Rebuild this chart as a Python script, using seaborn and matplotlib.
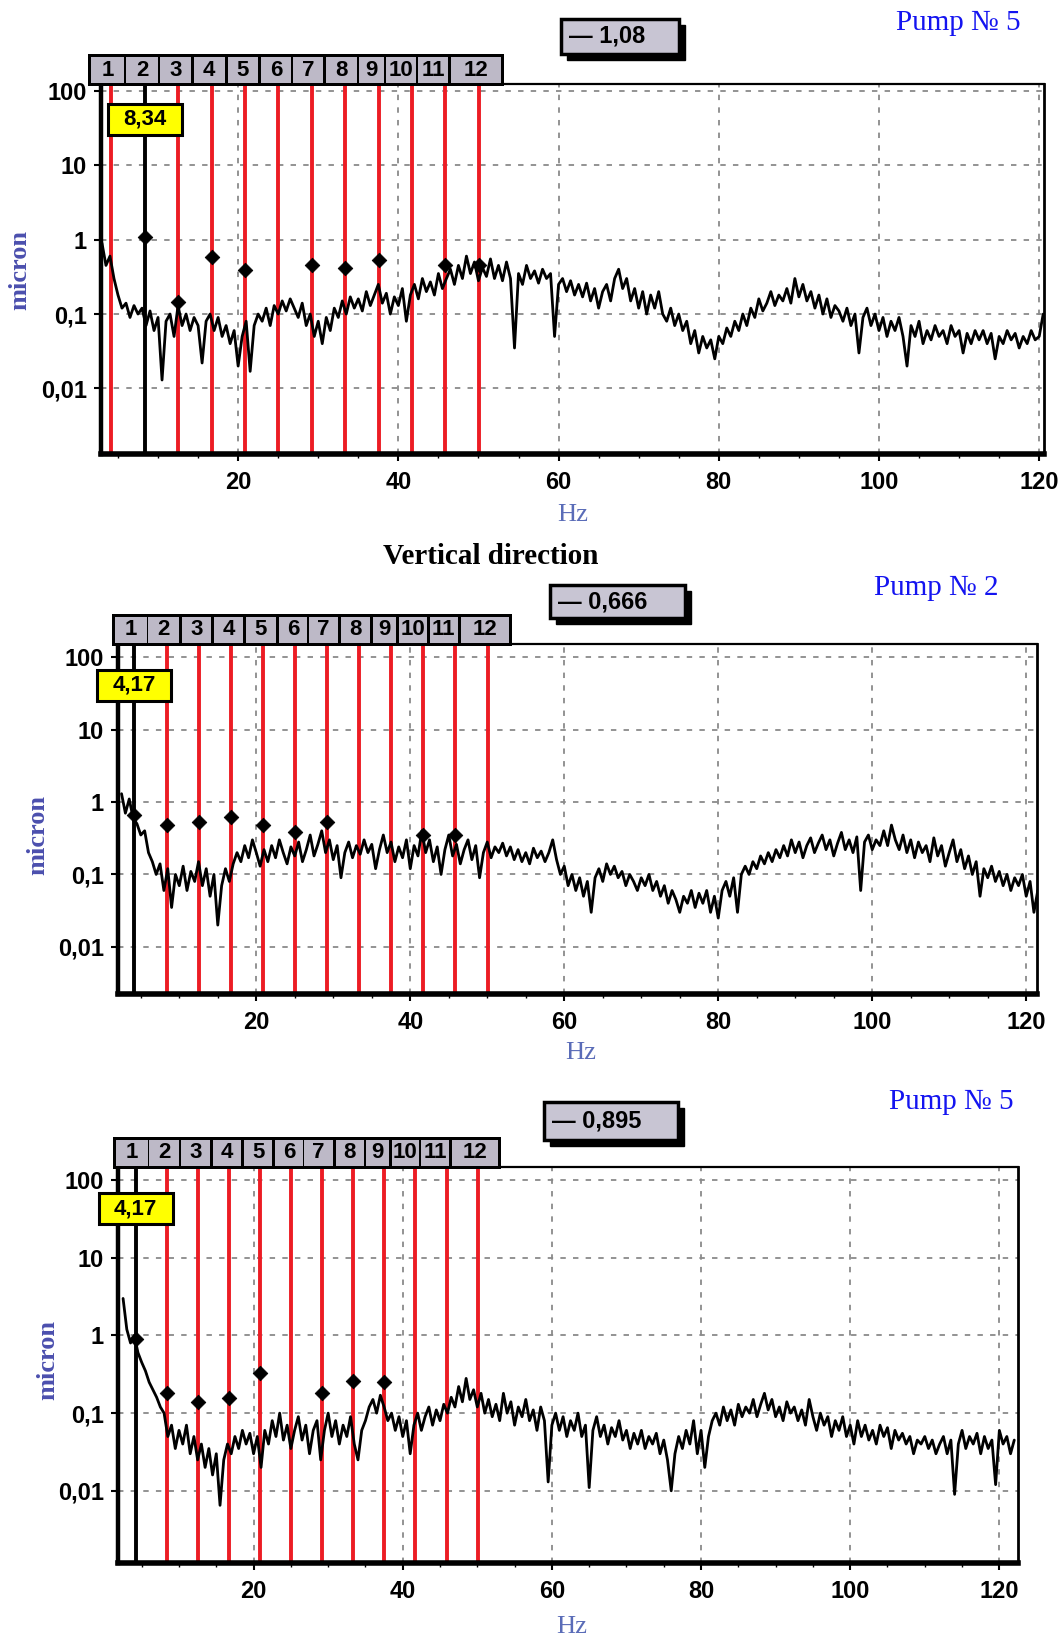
import numpy as np
import pandas as pd
import matplotlib
matplotlib.use("Agg")
import matplotlib.pyplot as plt
import seaborn as sns
from matplotlib.patches import Rectangle
from matplotlib.transforms import blended_transform_factory
from matplotlib.ticker import NullLocator

# ---------------- data ----------------
harmonics_hz = [4.17, 8.34, 12.51, 16.68, 20.85, 25.02, 29.19, 33.36, 37.53, 41.70, 45.87, 50.04]
harmonic_labels = ["1", "2", "3", "4", "5", "6", "7", "8", "9", "10", "11", "12"]
x_ticks = [20, 40, 60, 80, 100, 120]
y_ticks = [0.01, 0.1, 1, 10, 100]
y_tick_labels = ["0,01", "0,1", "1", "10", "100"]

pump_labels = ["Pump № 5", "Pump № 2", "Pump № 5"]
cursor_harmonic = [2, 1, 1]
cursor_freq_labels = ["8,34", "4,17", "4,17"]
cursor_value_labels = ["1,08", "0,666", "0,895"]

# Panel 1 spectrum (0.5 Hz step starting 3.0 Hz)
p1_start = 3.0
p1_amp = [
    0.9, 0.45, 0.6, 0.3, 0.18, 0.12, 0.14, 0.09, 0.13, 0.1, 0.12, 0.07, 0.11, 0.06, 0.09, 0.013, 0.08, 0.1, 0.05, 0.13,
    0.07, 0.1, 0.06, 0.09, 0.07, 0.022, 0.08, 0.1, 0.06, 0.09, 0.05, 0.07, 0.04, 0.06, 0.02, 0.05, 0.08, 0.017, 0.07, 0.1,
    0.08, 0.12, 0.07, 0.13, 0.1, 0.15, 0.11, 0.16, 0.12, 0.09, 0.14, 0.07, 0.1, 0.05, 0.08, 0.04, 0.09, 0.06, 0.12, 0.09,
    0.15, 0.1, 0.17, 0.12, 0.16, 0.11, 0.2, 0.13, 0.18, 0.25, 0.14, 0.19, 0.1, 0.17, 0.13, 0.22, 0.08, 0.18, 0.25, 0.16,
    0.3, 0.2, 0.27, 0.18, 0.35, 0.22, 0.3, 0.4, 0.25, 0.45, 0.3, 0.6, 0.35, 0.5, 0.28, 0.42, 0.32, 0.55, 0.3, 0.45,
    0.28, 0.5, 0.3, 0.035, 0.35, 0.25, 0.45, 0.3, 0.38, 0.26, 0.4, 0.3, 0.35, 0.05, 0.25, 0.3, 0.2, 0.28, 0.18, 0.25,
    0.17, 0.26, 0.15, 0.22, 0.12, 0.2, 0.25, 0.15, 0.3, 0.4, 0.22, 0.3, 0.15, 0.22, 0.12, 0.2, 0.1, 0.18, 0.12, 0.2,
    0.1, 0.08, 0.12, 0.07, 0.1, 0.06, 0.08, 0.04, 0.06, 0.03, 0.05, 0.035, 0.045, 0.025, 0.05, 0.04, 0.065, 0.05, 0.08, 0.06,
    0.1, 0.07, 0.12, 0.09, 0.16, 0.11, 0.14, 0.2, 0.13, 0.18, 0.15, 0.22, 0.14, 0.3, 0.17, 0.25, 0.15, 0.2, 0.12, 0.18,
    0.1, 0.16, 0.09, 0.13, 0.11, 0.08, 0.12, 0.07, 0.1, 0.03, 0.09, 0.12, 0.07, 0.1, 0.06, 0.09, 0.05, 0.08, 0.06, 0.09,
    0.05, 0.02, 0.07, 0.05, 0.08, 0.04, 0.06, 0.045, 0.07, 0.05, 0.06, 0.04, 0.07, 0.05, 0.06, 0.03, 0.055, 0.04, 0.06, 0.045,
    0.06, 0.04, 0.055, 0.025, 0.05, 0.04, 0.06, 0.045, 0.055, 0.035, 0.05, 0.04, 0.06, 0.045, 0.05, 0.1,
]

# Panel 2 spectrum (0.5 Hz step starting 2.5 Hz)
p2_start = 2.5
p2_amp = [
    1.3, 0.7, 1.1, 0.6, 0.5, 0.35, 0.4, 0.2, 0.15, 0.1, 0.14, 0.06, 0.12, 0.035, 0.1, 0.07, 0.13, 0.06, 0.11,
    0.08, 0.15, 0.07, 0.12, 0.05, 0.1, 0.02, 0.07, 0.12, 0.08, 0.14, 0.2, 0.15, 0.25, 0.17, 0.3, 0.2, 0.13, 0.22, 0.15,
    0.25, 0.17, 0.3, 0.2, 0.14, 0.24, 0.18, 0.28, 0.15, 0.22, 0.35, 0.18, 0.26, 0.4, 0.2, 0.3, 0.16, 0.25, 0.09, 0.2,
    0.28, 0.17, 0.25, 0.19, 0.3, 0.2, 0.26, 0.12, 0.22, 0.35, 0.2, 0.28, 0.15, 0.24, 0.17, 0.3, 0.12, 0.25, 0.18, 0.4,
    0.2, 0.3, 0.15, 0.24, 0.1, 0.22, 0.35, 0.18, 0.26, 0.14, 0.22, 0.3, 0.16, 0.25, 0.09, 0.2, 0.28, 0.17, 0.24, 0.2,
    0.27, 0.18, 0.24, 0.16, 0.22, 0.15, 0.2, 0.14, 0.23, 0.17, 0.21, 0.15, 0.2, 0.3, 0.16, 0.1, 0.13, 0.07, 0.1, 0.06,
    0.09, 0.05, 0.08, 0.03, 0.09, 0.12, 0.08, 0.14, 0.1, 0.13, 0.09, 0.11, 0.07, 0.1, 0.08, 0.06, 0.09, 0.07, 0.1, 0.06,
    0.08, 0.05, 0.07, 0.04, 0.06, 0.045, 0.03, 0.05, 0.04, 0.06, 0.035, 0.055, 0.04, 0.06, 0.03, 0.05, 0.025, 0.06, 0.08, 0.05,
    0.09, 0.03, 0.1, 0.13, 0.1, 0.15, 0.12, 0.18, 0.14, 0.2, 0.15, 0.22, 0.17, 0.25, 0.18, 0.3, 0.2, 0.28, 0.17, 0.25,
    0.32, 0.2, 0.27, 0.35, 0.22, 0.3, 0.18, 0.27, 0.38, 0.22, 0.3, 0.2, 0.33, 0.06, 0.28, 0.35, 0.22, 0.3, 0.25, 0.4,
    0.25, 0.48, 0.3, 0.22, 0.35, 0.2, 0.3, 0.17, 0.28, 0.2, 0.25, 0.15, 0.32, 0.18, 0.25, 0.13, 0.2, 0.3, 0.15, 0.22,
    0.12, 0.18, 0.1, 0.15, 0.05, 0.12, 0.09, 0.13, 0.08, 0.11, 0.07, 0.1, 0.06, 0.09, 0.07, 0.1, 0.05, 0.08, 0.03, 0.06,
]

# Panel 3 spectrum (0.5 Hz step starting 2.5 Hz)
p3_start = 2.5
p3_amp = [
    3.0, 1.2, 0.8, 1.0, 0.6, 0.45, 0.35, 0.25, 0.2, 0.16, 0.12, 0.1, 0.05, 0.07, 0.035, 0.06, 0.04, 0.07, 0.03,
    0.05, 0.025, 0.04, 0.02, 0.035, 0.016, 0.03, 0.0065, 0.025, 0.04, 0.03, 0.05, 0.035, 0.06, 0.04, 0.055, 0.03, 0.05, 0.02, 0.06,
    0.04, 0.08, 0.05, 0.1, 0.045, 0.07, 0.035, 0.06, 0.09, 0.045, 0.07, 0.03, 0.06, 0.08, 0.025, 0.06, 0.1, 0.05, 0.08, 0.04,
    0.07, 0.05, 0.09, 0.04, 0.025, 0.06, 0.08, 0.12, 0.15, 0.1, 0.17, 0.12, 0.08, 0.1, 0.06, 0.09, 0.05, 0.08, 0.03, 0.07,
    0.1, 0.06, 0.09, 0.12, 0.07, 0.11, 0.08, 0.13, 0.1, 0.16, 0.12, 0.22, 0.14, 0.28, 0.15, 0.2, 0.12, 0.18, 0.1, 0.15,
    0.09, 0.13, 0.08, 0.18, 0.1, 0.14, 0.07, 0.12, 0.09, 0.15, 0.08, 0.11, 0.06, 0.12, 0.08, 0.013, 0.07, 0.1, 0.06, 0.09,
    0.05, 0.08, 0.06, 0.1, 0.05, 0.07, 0.011, 0.06, 0.09, 0.05, 0.07, 0.04, 0.065, 0.05, 0.08, 0.045, 0.06, 0.035, 0.055, 0.04,
    0.06, 0.035, 0.05, 0.04, 0.055, 0.03, 0.045, 0.025, 0.01, 0.03, 0.05, 0.035, 0.06, 0.04, 0.08, 0.03, 0.06, 0.02, 0.05, 0.08,
    0.1, 0.07, 0.12, 0.08, 0.11, 0.07, 0.13, 0.09, 0.12, 0.1, 0.15, 0.09, 0.13, 0.18, 0.11, 0.15, 0.09, 0.12, 0.08, 0.14,
    0.1, 0.12, 0.08, 0.11, 0.07, 0.15, 0.09, 0.06, 0.1, 0.07, 0.09, 0.05, 0.08, 0.06, 0.09, 0.05, 0.07, 0.04, 0.08, 0.05,
    0.07, 0.045, 0.06, 0.04, 0.07, 0.05, 0.065, 0.035, 0.06, 0.045, 0.055, 0.04, 0.05, 0.03, 0.045, 0.04, 0.05, 0.035, 0.045, 0.03,
    0.04, 0.05, 0.03, 0.045, 0.009, 0.04, 0.06, 0.035, 0.05, 0.04, 0.055, 0.03, 0.05, 0.035, 0.045, 0.012, 0.06, 0.04, 0.05, 0.03, 0.045,
]

# harmonic markers (harmonic number, amplitude)
p1_mark_k = [2, 3, 4, 5, 7, 8, 9, 11, 12]
p1_mark_v = [1.08, 0.146, 0.59, 0.39, 0.46, 0.42, 0.54, 0.46, 0.46]
p2_mark_k = [1, 2, 3, 4, 5, 6, 7, 10, 11]
p2_mark_v = [0.666, 0.48, 0.53, 0.62, 0.48, 0.385, 0.53, 0.355, 0.355]
p3_mark_k = [1, 2, 3, 4, 5, 7, 8, 9]
p3_mark_v = [0.895, 0.18, 0.14, 0.156, 0.33, 0.18, 0.26, 0.25]

# ---------------- layout (pixels) ----------------
W, H = 1062, 1638
sns.set_theme(style="white")
plt.rcParams["font.family"] = ["Liberation Sans", "DejaVu Sans"]

fig = plt.figure(figsize=(W / 100, H / 100), dpi=100)
fig.patch.set_facecolor("white")

box_left = [1.6, 6.0, 10.3, 14.5, 18.7, 22.9, 26.8, 31.0, 35.1, 38.5, 42.5, 46.6]
box_right = [5.8, 10.0, 14.1, 18.3, 22.5, 26.6, 30.6, 34.8, 38.2, 42.2, 46.2, 52.8]

panels = [
    dict(rect=(101, 84, 1044, 454), xlim=(2.88, 120.6), ylim=(-2.88, 2.09),
         pump_xy=(958, 23), vbox=(561, 19, 679, 54), ylab_xy=(20, 270), hz_xy=(573, 515),
         ybox_top=20),
    dict(rect=(118, 644, 1037, 994), xlim=(2.04, 121.4), ylim=(-2.65, 2.18),
         pump_xy=(936, 588), vbox=(550, 585, 685, 618), ylab_xy=(38, 835), hz_xy=(581, 1053),
         ybox_top=26),
    dict(rect=(118, 1167, 1018, 1563), xlim=(1.82, 122.5), ylim=(-2.93, 2.17),
         pump_xy=(951, 1102), vbox=(544, 1102, 678, 1140), ylab_xy=(48, 1360), hz_xy=(572, 1627),
         ybox_top=26),
]

series = [
    (p1_start, p1_amp, p1_mark_k, p1_mark_v),
    (p2_start, p2_amp, p2_mark_k, p2_mark_v),
    (p3_start, p3_amp, p3_mark_k, p3_mark_v),
]

RED = "#ec1c24"
GRID = "#8a8a8a"
SERIF = ["Liberation Serif", "DejaVu Serif"]


def fx(x):
    return x / W


def fy(y):
    return 1 - y / H


for i, (cfg, (start, amp, mk, mv)) in enumerate(zip(panels, series)):
    l, t, r, b = cfg["rect"]
    ax = fig.add_axes([l / W, 1 - b / H, (r - l) / W, (b - t) / H])
    ax.set_facecolor("white")
    hax = b - t
    ppx = (r - l) / (cfg["xlim"][1] - cfg["xlim"][0])

    freq = start + 0.5 * np.arange(len(amp))
    df = pd.DataFrame({"Hz": freq, "micron": amp})

    ax.set_yscale("log")
    ax.set_xlim(*cfg["xlim"])
    ax.set_ylim(10 ** cfg["ylim"][0], 10 ** cfg["ylim"][1])

    for yv in y_ticks:
        ax.axhline(yv, color=GRID, lw=1.3, ls=(0, (3, 4)), zorder=1)
    for xv in x_ticks:
        ax.axvline(xv, color=GRID, lw=1.3, ls=(0, (3, 4)), zorder=1)

    for k, f in enumerate(harmonics_hz, start=1):
        ax.axvline(f, color="black" if k == cursor_harmonic[i] else RED, lw=2.8, zorder=3)

    sns.lineplot(data=df, x="Hz", y="micron", ax=ax, color="black", lw=2.0,
                 estimator=None, sort=False, zorder=4)
    sns.scatterplot(x=[harmonics_hz[k - 1] for k in mk], y=mv, ax=ax, marker="D",
                    color="black", edgecolor="black", s=55, zorder=6, legend=False)

    ax.set_xlabel("")
    ax.set_ylabel("")
    ax.set_xticks(x_ticks)
    ax.set_xticklabels([str(v) for v in x_ticks])
    ax.set_xticks(np.arange(5, 125, 5), minor=True)
    ax.set_yticks(y_ticks)
    ax.set_yticklabels(y_tick_labels)
    ax.yaxis.set_minor_locator(NullLocator())
    ax.tick_params(axis="x", which="major", bottom=True, length=5, width=1.5, pad=7,
                   labelsize=17, color="black", labelcolor="black")
    ax.tick_params(axis="x", which="minor", bottom=True, length=3, width=1.0, color="black")
    ax.tick_params(axis="y", which="major", left=True, length=5, width=1.5, pad=5,
                   labelsize=17, color="black", labelcolor="black")
    for lbl in ax.get_xticklabels() + ax.get_yticklabels():
        lbl.set_fontweight("bold")

    for side, lw in [("left", 3.2), ("bottom", 4.0), ("top", 1.6), ("right", 2.0)]:
        ax.spines[side].set_visible(True)
        ax.spines[side].set_color("black")
        ax.spines[side].set_linewidth(lw)
        ax.spines[side].set_zorder(8)

    # harmonic label strip above the axes
    trans = blended_transform_factory(ax.transData, ax.transAxes)
    y0 = 1 - 2 / hax
    y1 = 1 + 30 / hax
    ax.add_patch(Rectangle((1.2, y0), 53.2 - 1.2, y1 - y0, transform=trans, fc="black",
                           ec="none", clip_on=False, zorder=10))
    for j in range(12):
        rect = Rectangle((box_left[j], y0 + 3 / hax), box_right[j] - box_left[j],
                         (y1 - y0) - 6 / hax, transform=trans, fc="#bdb9c7", ec="none",
                         clip_on=False, zorder=11)
        ax.add_patch(rect)
        txt = ax.text((box_left[j] + box_right[j]) / 2, (y0 + y1) / 2, harmonic_labels[j],
                      transform=trans, ha="center", va="center", fontsize=16,
                      fontweight="bold", color="black", zorder=12, clip_on=True)
        txt.set_clip_path(rect)

    # cursor frequency (yellow box)
    fc = harmonics_hz[cursor_harmonic[i] - 1]
    half = 37 / ppx
    ty = 1 - cfg["ybox_top"] / hax
    by = 1 - (cfg["ybox_top"] + 31) / hax
    ax.add_patch(Rectangle((fc - half, by), 2 * half, ty - by, transform=trans, fc="#ffff00",
                           ec="black", lw=2.2, clip_on=False, zorder=13))
    ax.text(fc, (ty + by) / 2, cursor_freq_labels[i], transform=trans, ha="center",
            va="center", fontsize=16, fontweight="bold", color="black", zorder=14)

    # value box with shadow
    vx0, vy0, vx1, vy1 = cfg["vbox"]
    sh = 6
    fig.add_artist(Rectangle((fx(vx0 + sh), fy(vy1 + sh)), (vx1 - vx0) / W, (vy1 - vy0) / H,
                             transform=fig.transFigure, fc="black", ec="black", lw=1))
    fig.add_artist(Rectangle((fx(vx0), fy(vy1)), (vx1 - vx0) / W, (vy1 - vy0) / H,
                             transform=fig.transFigure, fc="#c8c5d3", ec="black", lw=2.5))
    fig.text(fx(vx0 + 8), fy((vy0 + vy1) / 2), "\u2014 " + cursor_value_labels[i], ha="left",
             va="center", fontsize=17, fontweight="bold", color="black")

    # labels
    fig.text(fx(cfg["pump_xy"][0]), fy(cfg["pump_xy"][1]), pump_labels[i], ha="center",
             va="center", fontsize=21, color="#1414f0", family=SERIF)
    fig.text(fx(cfg["ylab_xy"][0]), fy(cfg["ylab_xy"][1]), "micron", ha="center",
             va="center", rotation=90, fontsize=19, fontweight="bold", color="#4b4fae",
             family=SERIF)
    fig.text(fx(cfg["hz_xy"][0]), fy(cfg["hz_xy"][1]), "Hz", ha="center", va="center",
             fontsize=19, color="#5a6cb8", family=SERIF)

fig.text(fx(491), fy(557), "Vertical direction", ha="center", va="center", fontsize=21,
         fontweight="bold", color="black", family=SERIF)

fig.savefig("out.png", dpi=100, facecolor="white")
